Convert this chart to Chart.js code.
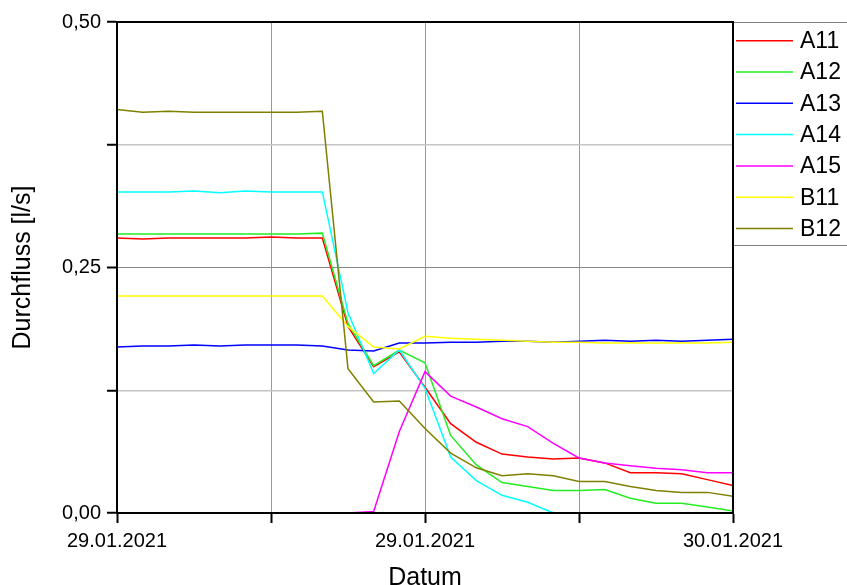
<!DOCTYPE html>
<html lang="de">
<head>
    <meta charset="UTF-8">
    <title>Durchfluss</title>
    <script src="https://cdn.jsdelivr.net/npm/chart.js"></script>
    <style>
        html, body { margin: 0; padding: 0; background: #fff; }
        #wrap { width: 847px; height: 585px; }
    </style>
</head>
<body>
<div id="wrap"><canvas id="flowChart" width="847" height="585"></canvas></div>

<script>
    // hours since 29.01.2021 00:00
    const hours = [0, 1, 2, 3, 4, 5, 6, 7, 8, 9, 10, 11, 12, 13, 14, 15, 16, 17, 18, 19, 20, 21, 22, 23, 24];

    const seriesNames = ["A11", "A12", "A13", "A14", "A15", "B11", "B12"];
    const seriesColors = ["#ff0000", "#22ee22", "#0000ff", "#00ffff", "#ff00ff", "#ffff00", "#808000"];

    const a11 = [0.280, 0.279, 0.280, 0.280, 0.280, 0.280, 0.281, 0.280, 0.280, 0.190, 0.149, 0.164, 0.128,
                 0.091, 0.072, 0.060, 0.057, 0.055, 0.056, 0.051, 0.041, 0.041, 0.040, 0.034, 0.028];
    const a12 = [0.284, 0.284, 0.284, 0.284, 0.284, 0.284, 0.284, 0.284, 0.285, 0.193, 0.150, 0.166, 0.153,
                 0.079, 0.049, 0.031, 0.027, 0.023, 0.023, 0.024, 0.015, 0.010, 0.010, 0.006, 0.002];
    const a13 = [0.169, 0.170, 0.170, 0.171, 0.170, 0.171, 0.171, 0.171, 0.170, 0.166, 0.165, 0.173, 0.173,
                 0.174, 0.174, 0.175, 0.175, 0.174, 0.175, 0.176, 0.175, 0.176, 0.175, 0.176, 0.177];
    const a14 = [0.327, 0.327, 0.327, 0.328, 0.326, 0.328, 0.327, 0.327, 0.327, 0.204, 0.142, 0.166, 0.127,
                 0.057, 0.033, 0.018, 0.011, 0.000, 0.000, 0.000, 0.000, 0.000, 0.000, 0.000, 0.000];
    const a15 = [0.000, 0.000, 0.000, 0.000, 0.000, 0.000, 0.000, 0.000, 0.000, 0.000, 0.0015, 0.083, 0.144,
                 0.119, 0.108, 0.096, 0.088, 0.071, 0.056, 0.051, 0.048, 0.0455, 0.044, 0.041, 0.041];
    const b11 = [0.221, 0.221, 0.221, 0.221, 0.221, 0.221, 0.221, 0.221, 0.221, 0.190, 0.169, 0.167, 0.180,
                 0.178, 0.177, 0.176, 0.175, 0.174, 0.174, 0.173, 0.173, 0.173, 0.173, 0.173, 0.174];
    const b12 = [0.411, 0.408, 0.409, 0.408, 0.408, 0.408, 0.408, 0.408, 0.409, 0.147, 0.113, 0.114, 0.086,
                 0.061, 0.046, 0.038, 0.040, 0.038, 0.032, 0.032, 0.027, 0.023, 0.021, 0.021, 0.017];

    const seriesValues = [a11, a12, a13, a14, a15, b11, b12];

    const xTickValues = [0, 12, 24];
    const xTickLabels = ["29.01.2021", "29.01.2021", "30.01.2021"];
    const yTickValues = [0, 0.25, 0.5];
    const yTickLabels = ["0,00", "0,25", "0,50"];

    const FONT = "'Liberation Sans', Arial, sans-serif";

    // frame around plot + legend box on the right
    const framePlugin = {
        id: "frame",
        afterDraw(chart) {
            const ctx = chart.ctx;
            const a = chart.chartArea;
            ctx.save();

            // legend box
            const boxTop = a.top, boxLeft = a.right;
            const rowH = 31.3;
            const boxH = 223;
            ctx.fillStyle = "#fff";
            ctx.fillRect(boxLeft, boxTop, 120, boxH);
            ctx.strokeStyle = "#808080";
            ctx.lineWidth = 1;
            ctx.strokeRect(boxLeft + 0.5, boxTop + 0.5, 120, boxH);

            chart.data.datasets.forEach((ds, i) => {
                const y = boxTop + 18.7 + i * rowH;
                ctx.strokeStyle = ds.borderColor;
                ctx.lineWidth = 1.5;
                ctx.beginPath();
                ctx.moveTo(boxLeft + 3, y);
                ctx.lineTo(boxLeft + 60, y);
                ctx.stroke();
                ctx.fillStyle = "#000";
                ctx.font = "23px " + FONT;
                ctx.textBaseline = "middle";
                ctx.textAlign = "left";
                ctx.fillText(ds.label, boxLeft + 67, y + 1);
            });

            // black frame
            ctx.strokeStyle = "#000";
            ctx.lineWidth = 2;
            ctx.strokeRect(a.left, a.top, a.right - a.left, a.bottom - a.top);
            ctx.restore();
        }
    };

    const datasets = seriesNames.map((name, i) => ({
        label: name,
        data: hours.map((h, k) => ({ x: h, y: seriesValues[i][k] })),
        borderColor: seriesColors[i],
        backgroundColor: seriesColors[i],
        borderWidth: 1.5,
        pointRadius: 0,
        tension: 0,
        fill: false,
        order: seriesNames.length - i
    }));

    new Chart(document.getElementById("flowChart"), {
        type: "line",
        data: { datasets: datasets },
        options: {
            responsive: false,
            animation: false,
            events: [],
            layout: { padding: { left: 0, right: 114, top: 22, bottom: 0 } },
            plugins: {
                legend: { display: false },
                tooltip: { enabled: false }
            },
            scales: {
                x: {
                    type: "linear",
                    min: 0,
                    max: 24,
                    afterFit: s => { s.height = 72; },
                    afterBuildTicks: s => { s.ticks = [0, 6, 12, 18, 24].map(v => ({ value: v })); },
                    grid: {
                        color: "#999",
                        lineWidth: 1,
                        tickColor: "#000",
                        tickLength: 10,
                        tickWidth: 2
                    },
                    border: { color: "#000", width: 2 },
                    ticks: {
                        autoSkip: false,
                        maxRotation: 0,
                        padding: 6,
                        color: "#000",
                        font: { family: FONT, size: 20 },
                        callback: v => {
                            const k = xTickValues.indexOf(v);
                            return k >= 0 ? xTickLabels[k] : "";
                        }
                    },
                    title: {
                        display: true,
                        text: "Datum",
                        color: "#000",
                        font: { family: FONT, size: 25 },
                        padding: { top: 0, bottom: -8 }
                    }
                },
                y: {
                    min: 0,
                    max: 0.5,
                    afterFit: s => { s.width = 117; },
                    afterBuildTicks: s => { s.ticks = [0, 0.125, 0.25, 0.375, 0.5].map(v => ({ value: v })); },
                    grid: {
                        color: c => (c.tick && c.tick.value === 0.25) ? "#888" : "#c4c4c4",
                        lineWidth: c => (c.tick && c.tick.value === 0.25) ? 1 : 1.5,
                        tickColor: "#000",
                        tickLength: 10,
                        tickWidth: 2
                    },
                    border: { color: "#000", width: 2 },
                    ticks: {
                        padding: 6,
                        color: "#000",
                        font: { family: FONT, size: 20 },
                        callback: v => {
                            const k = yTickValues.indexOf(v);
                            return k >= 0 ? yTickLabels[k] : "";
                        }
                    },
                    title: {
                        display: true,
                        text: "Durchfluss [l/s]",
                        color: "#000",
                        font: { family: FONT, size: 25 },
                        padding: { top: 8, bottom: 0 }
                    }
                }
            }
        },
        plugins: [framePlugin]
    });
</script>
</body>
</html>
